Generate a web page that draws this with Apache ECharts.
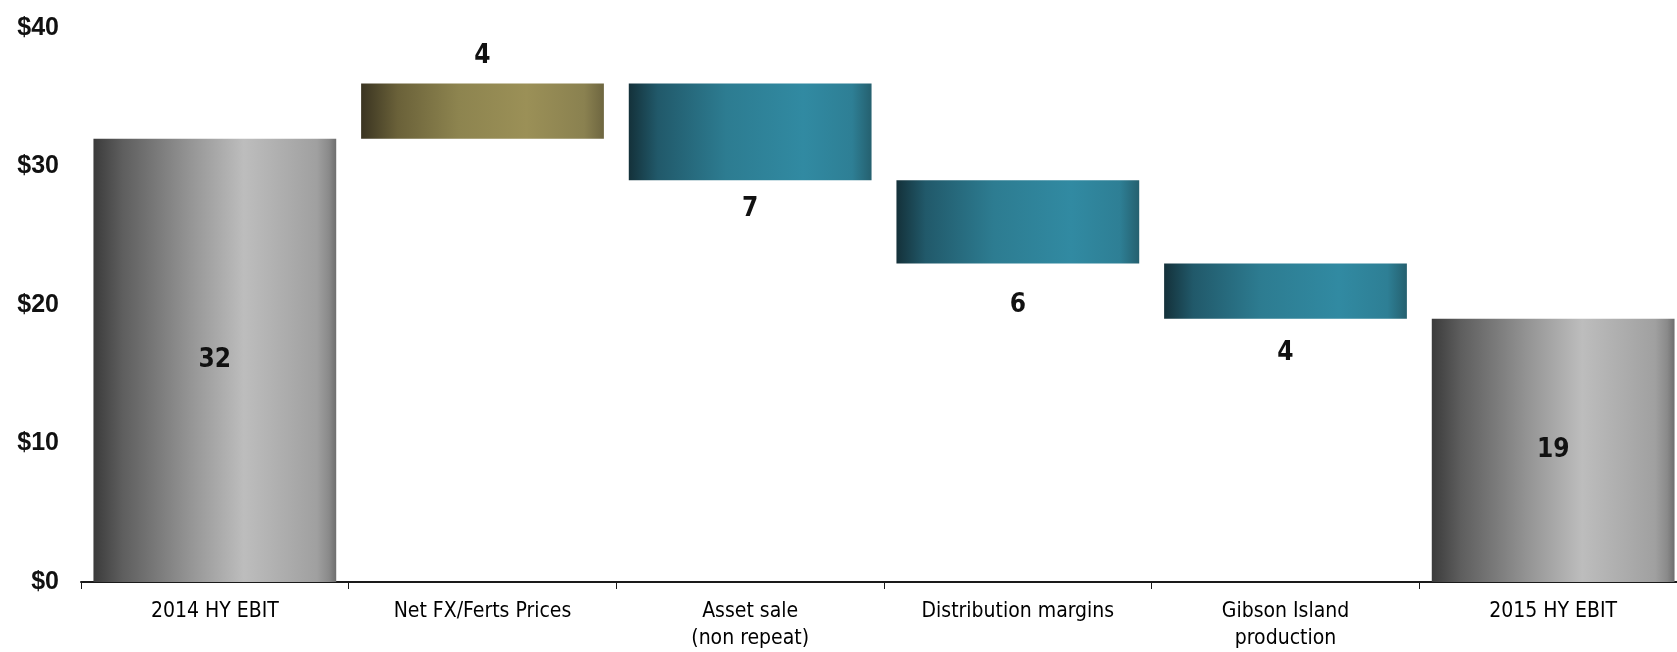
<!DOCTYPE html>
<html>
<head>
<meta charset="utf-8">
<title>HY EBIT bridge</title>
<script src="https://cdn.jsdelivr.net/npm/echarts@6/dist/echarts.min.js"></script>
<style>
  html, body { margin: 0; padding: 0; background: #ffffff; overflow: hidden; }
  /* the plot runs a little past the right edge of the window */
  #chart { width: 1687px; height: 652px; }
</style>
</head>
<body>
<div id="chart"></div>
<script>
// Bridge from 2014 HY EBIT to 2015 HY EBIT ($m)
const categories = ['2014 HY EBIT', 'Net FX/Ferts Prices', 'Asset sale\n(non repeat)', 'Distribution margins', 'Gibson Island\nproduction', '2015 HY EBIT'];
const changes = [32, 4, -7, -6, -4, 19];
const kinds = ['total', 'step', 'step', 'step', 'step', 'total'];
const yTicks = [0, 10, 20, 30, 40];

// gap between a step bar and its value label
const labelGap = [0, 14, 16, 29, 21, 0];

const FONT = "'Liberation Sans Narrow', 'Arial Narrow', 'DejaVu Sans Condensed', 'Liberation Sans', sans-serif";

function sideGradient(stops) {
  return new echarts.graphic.LinearGradient(0, 0, 1, 0, stops.map(s => ({ offset: s[0], color: s[1] })));
}
const grayFill = sideGradient([[0, '#3b3b3b'], [0.12, '#5e5e5e'], [0.4, '#959595'], [0.62, '#bdbdbd'], [0.92, '#a0a0a0'], [0.97, '#8a8a8a'], [1, '#6e6e6e']]);
const goldFill = sideGradient([[0, '#3a3421'], [0.15, '#6a6139'], [0.4, '#8d844f'], [0.68, '#9b9057'], [0.92, '#8a8150'], [1, '#6e6640']]);
const tealFill = sideGradient([[0, '#14313a'], [0.12, '#21596a'], [0.4, '#2d7c91'], [0.72, '#318aa2'], [0.92, '#2e7f95'], [1, '#25606f']]);

// running levels: invisible base + visible block
const bases = [];
const blocks = [];
let level = 0;
changes.forEach((v, i) => {
  if (kinds[i] === 'total') {
    bases.push(0);
    blocks.push(v);
    level = v;
  } else if (v >= 0) {
    bases.push(level);
    blocks.push(v);
    level += v;
  } else {
    level += v;
    bases.push(level);
    blocks.push(-v);
  }
});

const visibleData = blocks.map((h, i) => {
  let fill = grayFill;
  let label = { position: 'inside' };
  if (kinds[i] === 'step') {
    if (changes[i] >= 0) {
      fill = goldFill;
      label = { position: 'top', distance: labelGap[i] };
    } else {
      fill = tealFill;
      label = { position: 'bottom', distance: labelGap[i] };
    }
  }
  return { value: h, itemStyle: { color: fill }, label: label };
});

const chart = echarts.init(document.getElementById('chart'), null, { renderer: 'canvas' });
chart.setOption({
  animation: false,
  backgroundColor: '#ffffff',
  grid: { left: 81, right: 0, top: 28, bottom: 70, containLabel: false },
  xAxis: {
    type: 'category',
    data: categories,
    axisLine: { lineStyle: { color: '#1a1a1a', width: 2 } },
    axisTick: { show: true, length: 7, lineStyle: { color: '#1a1a1a', width: 1 } },
    axisLabel: {
      color: '#000',
      fontFamily: FONT,
      fontSize: 21,
      lineHeight: 27,
      margin: 16,
      interval: 0
    }
  },
  yAxis: {
    type: 'value',
    min: yTicks[0],
    max: yTicks[yTicks.length - 1],
    interval: 10,
    axisLine: { show: false },
    axisTick: { show: false },
    splitLine: { show: false },
    axisLabel: {
      color: '#111',
      fontFamily: "'Liberation Sans', Arial, sans-serif",
      fontWeight: 'bold',
      fontSize: 25,
      margin: 22,
      formatter: v => '$' + v
    }
  },
  series: [
    {
      type: 'bar',
      stack: 'bridge',
      data: bases,
      itemStyle: { color: 'transparent' },
      silent: true,
      barWidth: '90.7%'
    },
    {
      type: 'bar',
      stack: 'bridge',
      data: visibleData,
      barWidth: '90.7%',
      label: {
        show: true,
        color: '#111',
        fontFamily: FONT,
        fontWeight: 'bold',
        fontSize: 26,
        formatter: p => String(Math.abs(changes[p.dataIndex]))
      }
    }
  ]
});
</script>
</body>
</html>
